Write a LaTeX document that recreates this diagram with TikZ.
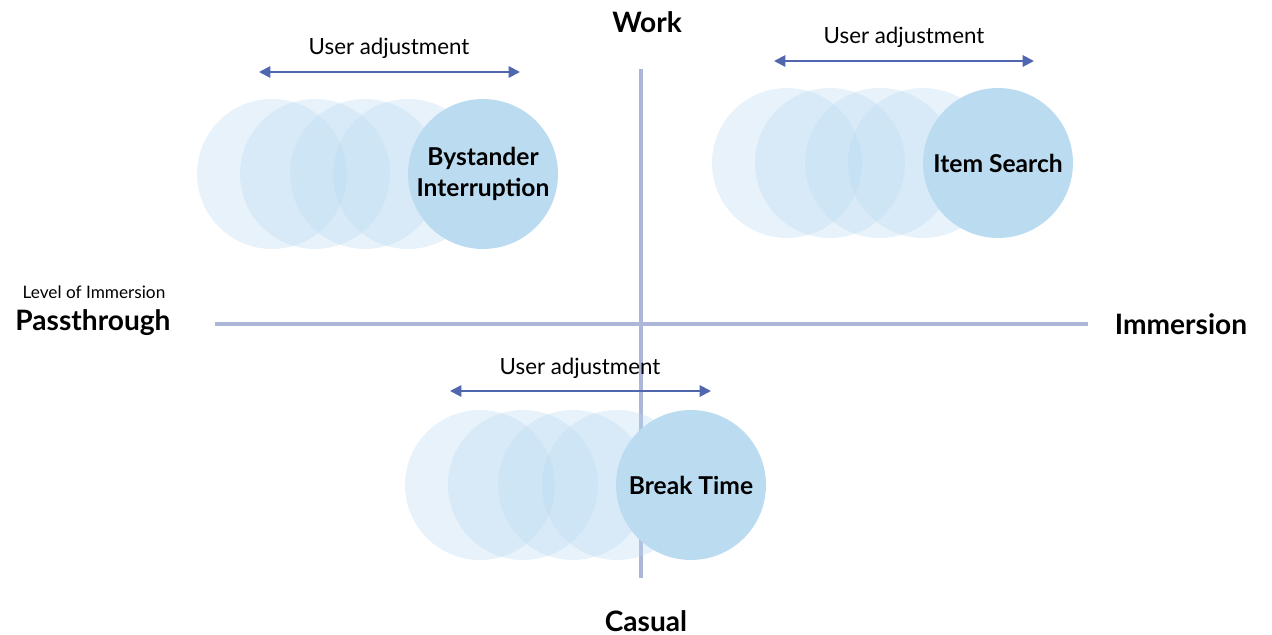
\documentclass[tikz,border=0pt]{standalone}
\usepackage{fontspec}
\setmainfont{Lato}
\usetikzlibrary{arrows.meta}
\definecolor{bubble}{RGB}{187,219,241}
\definecolor{axisblue}{RGB}{172,182,216}
\definecolor{adjust}{RGB}{80,103,176}
\begin{document}
\begin{tikzpicture}[
    x=0.02cm, y=-0.02cm,
    ghost/.style={circle, fill=bubble, fill opacity=0.35, minimum size=3cm, inner sep=0pt},
    task/.style={circle, fill=bubble, minimum size=3cm, inner sep=0pt, align=center, font=\bfseries\fontsize{14}{17.5}\selectfont},
    axisline/.style={draw=axisblue, line width=2pt},
    slide/.style={draw=adjust, line width=1.1pt, {Triangle[width=6.5pt,length=6.5pt]}-{Triangle[width=6.5pt,length=6.5pt]}},
    pole/.style={font=\bfseries\fontsize{16}{19}\selectfont},
    hint/.style={font=\fontsize{12.7}{15}\selectfont}
]
\useasboundingbox (0,0) rectangle (1272,635);

% axes
\coordinate (left) at (215,324);
\coordinate (right) at (1088,324);
\coordinate (top) at (641,69);
\coordinate (bottom) at (641,578);
\draw[axisline] (left) -- (right);
\draw[axisline] (top) -- (bottom);

\node[pole] (work) at (647,22) {Work};
\node[pole] (casual) at (646,621) {Casual};
\node[pole] (pass) at (93,323) {Passthrough};
\node[pole] (imm) at (1181,324) {Immersion};
\node[font=\fontsize{9.8}{12}\selectfont] (level) at (94,292) {Level of Immersion};

% bystander interruption
\node[ghost] (b1) at (272,174) {};
\node[ghost] (b2) at (315,174) {};
\node[ghost] (b3) at (365,174) {};
\node[ghost] (b4) at (408,174) {};
\node[task] (bystander) at (483,174) {Bystander\\Interruption};
\coordinate (bl) at (259,72);
\coordinate (br) at (520,72);
\draw[slide] (bl) -- (br);
\node[hint] (badj) at (389,48) {User adjustment};

% item search
\node[ghost] (s1) at (787,163) {};
\node[ghost] (s2) at (830,163) {};
\node[ghost] (s3) at (880,163) {};
\node[ghost] (s4) at (923,163) {};
\node[task] (search) at (998,163) {Item Search};
\coordinate (sl) at (774,61);
\coordinate (sr) at (1034,61);
\draw[slide] (sl) -- (sr);
\node[hint] (sadj) at (904,37) {User adjustment};

% break time
\node[ghost] (t1) at (480,485) {};
\node[ghost] (t2) at (523,485) {};
\node[ghost] (t3) at (573,485) {};
\node[ghost] (t4) at (617,485) {};
\node[task] (break) at (691,485) {Break Time};
\coordinate (tl) at (450,391);
\coordinate (tr) at (711,391);
\draw[slide] (tl) -- (tr);
\node[hint] (tadj) at (580,368) {User adjustment};
\end{tikzpicture}
\end{document}
